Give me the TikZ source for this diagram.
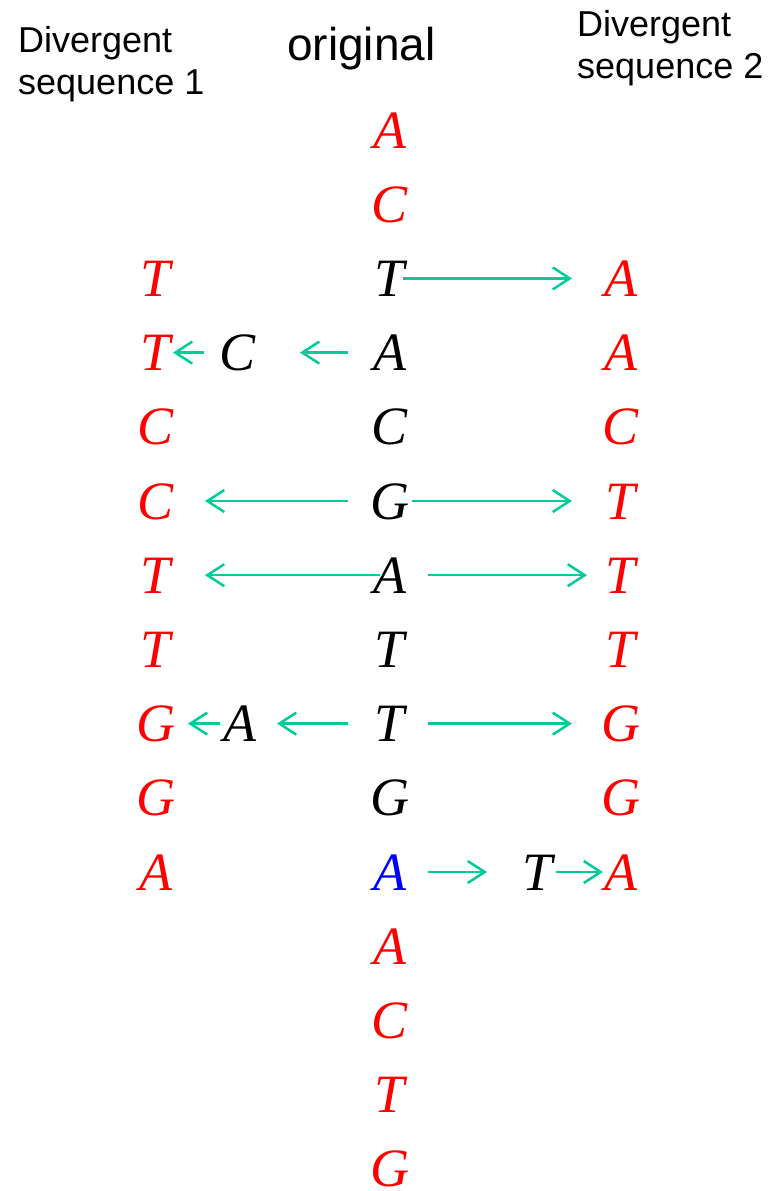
\documentclass[tikz,border=0pt]{standalone}
\usepackage{fontspec}
\setmainfont{Liberation Serif}
\setsansfont{Liberation Sans}
\usetikzlibrary{arrows.meta}
\definecolor{MutGreen}{HTML}{00CC99}
\definecolor{BaseRed}{HTML}{FF0000}
\definecolor{BaseBlue}{HTML}{0000FF}

\tikzset{
  base/.style={font=\fontsize{54}{60}\selectfont\itshape, inner sep=0pt,
               text height=36pt, text depth=0pt},
  heading/.style={font=\sffamily\fontsize{36}{42}\selectfont, inner sep=0pt,
                  align=left, anchor=north west},
  mut/.style={draw=MutGreen, line width=2.5pt,
              -{Straight Barb[length=17pt,width=22pt]}}
}

\begin{document}
\begin{tikzpicture}[x=1pt,y=-1pt]
  \useasboundingbox (0,0) rectangle (776,1191);

  % headings
  \node[heading] (head1) at (18,26) {Divergent\\sequence 1};
  \node[font=\sffamily\fontsize{46}{52}\selectfont, inner sep=0pt,
        anchor=base west] (head0) at (287,60) {original};
  \node[heading] (head2) at (577,10) {Divergent\\sequence 2};

  % original sequence
  \foreach \l/\c [count=\i] in {A/BaseRed,C/BaseRed,T/black,A/black,C/black,
      G/black,A/black,T/black,T/black,G/black,A/BaseBlue,A/BaseRed,C/BaseRed,
      T/BaseRed,G/BaseRed}
    \node[base, text=\c] (o\i) at (390,{130+(\i-1)*74.2}) {\l};

  % divergent sequences
  \foreach \l [count=\i from 3] in {T,T,C,C,T,T,G,G,A}
    \node[base, text=BaseRed] (l\i) at (156,{130+(\i-1)*74.2}) {\l};
  \foreach \l [count=\i from 3] in {A,A,C,T,T,T,G,G,A}
    \node[base, text=BaseRed] (r\i) at (621,{130+(\i-1)*74.2}) {\l};

  % intermediate bases
  \node[base] (lc4) at (238,{130+3*74.2}) {C};
  \node[base] (la9) at (240,{130+8*74.2}) {A};
  \node[base] (rt11) at (538,{130+10*74.2}) {T};

  % mutations
  \draw[mut, shorten <=13pt, shorten >=49pt] (o3.center) -- (r3.center);
  \draw[mut, shorten <=42pt, shorten >=62pt] (o4.center) -- (lc4.center);
  \draw[mut, shorten <=34pt, shorten >=17pt] (lc4.center) -- (l4.center);
  \draw[mut, shorten <=42pt, shorten >=49pt] (o6.center) -- (l6.center);
  \draw[mut, shorten <=22pt, shorten >=49pt] (o6.center) -- (r6.center);
  \draw[mut, shorten <=10pt, shorten >=49pt] (o7.center) -- (l7.center);
  \draw[mut, shorten <=38pt, shorten >=34pt] (o7.center) -- (r7.center);
  \draw[mut, shorten <=42pt, shorten >=37pt] (o9.center) -- (la9.center);
  \draw[mut, shorten <=20pt, shorten >=32pt] (la9.center) -- (l9.center);
  \draw[mut, shorten <=38pt, shorten >=49pt] (o9.center) -- (r9.center);
  \draw[mut, shorten <=38pt, shorten >=51pt] (o11.center) -- (rt11.center);
  \draw[mut, shorten <=18pt, shorten >=18pt] (rt11.center) -- (r11.center);
\end{tikzpicture}
\end{document}
